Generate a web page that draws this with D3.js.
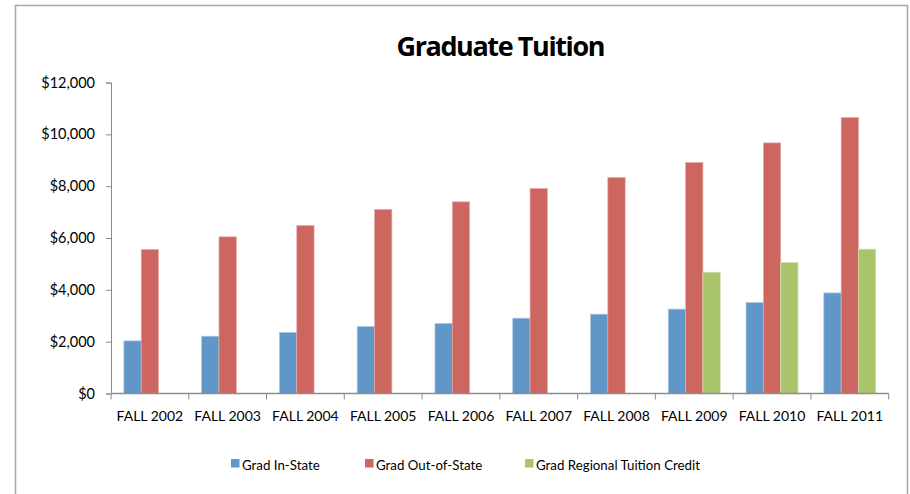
<!DOCTYPE html>
<html>
<head>
<meta charset="utf-8">
<script src="https://cdn.jsdelivr.net/npm/d3@7"></script>
<style>
  body { margin: 0; background: #fff; }
  svg text { font-family: Lato, "Open Sans", sans-serif; fill: #000; }
</style>
</head>
<body>
<svg id="chart" width="910" height="494"></svg>
<script>
// data
let years = ["FALL 2002", "FALL 2003", "FALL 2004", "FALL 2005", "FALL 2006",
             "FALL 2007", "FALL 2008", "FALL 2009", "FALL 2010", "FALL 2011"];
let seriesNames = ["Grad In-State", "Grad Out-of-State", "Grad Regional Tuition Credit"];
let inState = [2030, 2210, 2355, 2585, 2700, 2905, 3060, 3255, 3510, 3880];
let outState = [5555, 6045, 6480, 7100, 7395, 7910, 8335, 8915, 9670, 10650];
let regional = [null, null, null, null, null, null, null, 4680, 5055, 5570];
let yTicks = [0, 2000, 4000, 6000, 8000, 10000, 12000];
let colors = ["#6096c8", "#cd665f", "#a9c46a"];
let strokes = ["#a9c6e3", "#e6aaa6", "#d3e2b3"];

function drawChart() {
    let svg = d3.select("#chart");

    // outer frame
    svg.append("rect")
        .attr("x", 15.5).attr("y", 5.5)
        .attr("width", 892).attr("height", 500)
        .attr("fill", "none")
        .attr("stroke", "#a6a6a6")
        .attr("stroke-width", 1.5);

    svg.append("text")
        .attr("x", 501).attr("y", 56)
        .attr("text-anchor", "middle")
        .style("font-size", "27px")
        .style("font-weight", "bold")
        .style("font-family", "'Open Sans', sans-serif")
        .attr("textLength", 209)
        .text("Graduate Tuition");

    let y = d3.scaleLinear().domain([0, 12000]).range([393.5, 82.5]);
    let x0 = d3.scaleBand().domain(years).range([111, 888.7]);
    let x1 = d3.scaleBand().domain(d3.range(seriesNames.length))
        .range([12.9, x0.bandwidth() - 12.9]);

    // y axis
    let yAxis = svg.append("g")
        .attr("transform", "translate(111,0)")
        .call(d3.axisLeft(y).tickValues(yTicks).tickSizeOuter(0).tickSize(5)
            .tickFormat(d => "$" + d3.format(",")(d)));
    yAxis.select(".domain").attr("stroke", "#8c8c8c");
    yAxis.selectAll(".tick line").attr("stroke", "#8c8c8c");
    yAxis.selectAll("text")
        .attr("x", -16)
        .style("font-size", "14.5px")
        .attr("fill", "#000");

    // bars
    let rows = years.map((yr, i) => ({year: yr, vals: [inState[i], outState[i], regional[i]]}));
    let groups = svg.selectAll("g.group")
        .data(rows)
        .enter()
        .append("g")
        .attr("class", "group")
        .attr("transform", d => "translate(" + x0(d.year) + ",0)");
    groups.selectAll("rect")
        .data(d => d.vals.map((v, k) => ({v: v, k: k})).filter(d => d.v != null))
        .enter()
        .append("rect")
        .attr("x", d => x1(d.k))
        .attr("y", d => y(d.v))
        .attr("width", x1.bandwidth())
        .attr("height", d => y(0) - y(d.v))
        .attr("fill", d => colors[d.k])
        .attr("stroke", d => strokes[d.k])
        .attr("stroke-width", 0.7);

    // x axis: ticks at category boundaries
    let xg = svg.append("g");
    xg.append("line")
        .attr("x1", 111).attr("x2", 888.7)
        .attr("y1", y(0)).attr("y2", y(0))
        .attr("stroke", "#8c8c8c").attr("stroke-width", 1.5);
    let bounds = years.map(d => x0(d)).concat([x0.range()[1]]);
    xg.selectAll("line.tk")
        .data(bounds)
        .enter()
        .append("line")
        .attr("class", "tk")
        .attr("x1", d => d).attr("x2", d => d)
        .attr("y1", y(0)).attr("y2", y(0) + 6)
        .attr("stroke", "#8c8c8c");
    xg.selectAll("text")
        .data(years)
        .enter()
        .append("text")
        .attr("x", d => x0(d) + x0.bandwidth() / 2)
        .attr("y", 421)
        .attr("text-anchor", "middle")
        .style("font-size", "14px")
        .text(d => d);

    // legend
    let legendX = [231, 365, 525];
    let lg = svg.selectAll("g.legend")
        .data(seriesNames)
        .enter()
        .append("g")
        .attr("class", "legend")
        .attr("transform", (d, i) => "translate(" + legendX[i] + ",459)");
    lg.append("rect")
        .attr("width", 8.5).attr("height", 8.5)
        .attr("fill", (d, i) => colors[i]);
    lg.append("text")
        .attr("x", 11).attr("y", 10.5)
        .style("font-size", "13.3px")
        .text(d => d);
}

drawChart();
</script>
</body>
</html>
